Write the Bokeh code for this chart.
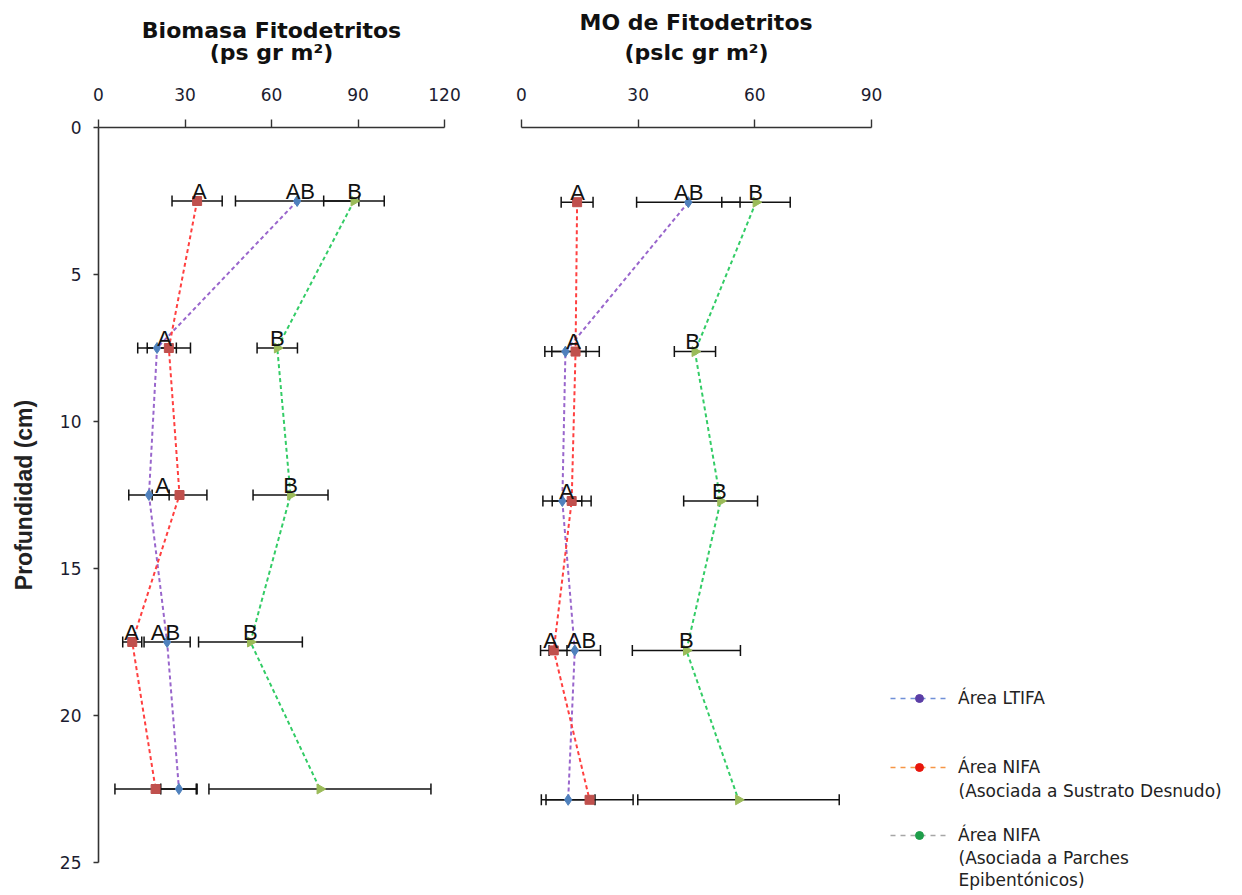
import math
from bokeh.plotting import figure
from bokeh.layouts import row
from bokeh.models import (Range1d, FixedTicker, ColumnDataSource, Whisker, TeeHead,
                          Title, Legend, LegendItem, Label)
from bokeh.core.properties import value
from bokeh.embed import file_html
from bokeh.resources import INLINE

# ---------------- data ----------------
depth = [2.5, 7.5, 12.5, 17.5, 22.5]
depth_ticks = [0, 5, 10, 15, 20, 25]
bio_ticks = [0, 30, 60, 90, 120]
mo_ticks = [0, 30, 60, 90]

series_labels = ["Área LTIFA", "Área NIFA", "Área NIFA"]
series_sublabels = [[], ["(Asociada a Sustrato Desnudo)"],
                    ["(Asociada a Parches", "Epibentónicos)"]]

# Biomasa Fitodetritos (ps gr m2)
bio_ltifa = [68.9, 20.3, 17.5, 23.8, 27.9]
bio_ltifa_err = [21.4, 6.7, 7.0, 8.0, 6.3]
bio_desnudo = [34.2, 24.4, 28.1, 11.7, 19.8]
bio_desnudo_err = [8.7, 7.5, 9.5, 3.3, 14.1]
bio_parches = [88.6, 62.0, 66.6, 52.7, 76.8]
bio_parches_err = [10.5, 7.0, 13.0, 18.0, 38.5]

bio_lbl_text = ["A", "AB", "B", "A", "B", "A", "B", "A", "AB", "B"]
bio_lbl_x = [35.0, 70.0, 88.8, 22.9, 62.0, 22.2, 66.6, 11.5, 23.2, 52.7]
bio_lbl_depth = [2.5, 2.5, 2.5, 7.5, 7.5, 12.5, 12.5, 17.5, 17.5, 17.5]

# MO de Fitodetritos (pslc gr m2)
mo_ltifa = [42.9, 11.3, 10.5, 13.7, 12.0]
mo_ltifa_err = [13.3, 5.3, 5.0, 6.6, 6.9]
mo_desnudo = [14.3, 13.9, 12.9, 8.3, 17.5]
mo_desnudo_err = [4.1, 6.1, 5.0, 3.4, 11.2]
mo_parches = [60.3, 44.6, 51.2, 42.4, 55.8]
mo_parches_err = [8.8, 5.3, 9.5, 13.9, 25.9]

mo_lbl_text = ["A", "AB", "B", "A", "B", "A", "B", "A", "AB", "B"]
mo_lbl_x = [14.4, 43.0, 60.2, 13.4, 44.0, 11.6, 50.9, 7.5, 15.4, 42.4]
mo_lbl_depth = [2.5, 2.5, 2.5, 7.5, 7.5, 12.5, 12.5, 17.5, 17.5, 17.5]

# ---------------- styles ----------------
FONT = "Liberation Sans"
WIDEFONT = "DejaVu Sans"
LINE_COLORS = ["#9966CC", "#FF4040", "#33CC66"]
MARK_COLORS = ["#4F81BD", "#C0504D", "#9BBB59"]
NAN = float("nan")
TITLE_KW = dict(text_font=WIDEFONT, text_font_size="22px", text_font_style="bold",
                text_color="#111111")


def style_axis(ax, ticks):
    ax.ticker = FixedTicker(ticks=ticks)
    ax.minor_tick_line_color = None
    ax.axis_line_color = "#333333"
    ax.axis_line_width = 1.6
    ax.major_tick_line_color = "#333333"
    ax.major_tick_line_width = 1.4
    ax.major_tick_in = 0
    ax.major_label_text_font = WIDEFONT
    ax.major_label_text_font_size = "17px"
    ax.major_label_text_color = "#1c1c30"


def panel(xmax, xend, yend, xticks, fw, fh, bl, br, bb, with_y, vals, errs, lx, ld, lt):
    p = figure(frame_width=fw, frame_height=fh,
               x_range=Range1d(0, xend), y_range=Range1d(yend, 0),
               x_axis_location="above",
               y_axis_location="left" if with_y else None,
               output_backend="svg", toolbar_location=None, title=None,
               min_border_left=bl, min_border_right=br,
               min_border_top=127, min_border_bottom=bb)
    p.outline_line_color = None
    p.xgrid.visible = False
    p.ygrid.visible = False
    p.background_fill_color = "white"
    p.border_fill_color = "white"

    xa = p.xaxis[0]
    style_axis(xa, xticks)
    xa.bounds = (0, xmax)
    xa.major_tick_out = 8
    xa.major_label_standoff = 19
    if with_y:
        ya = p.yaxis[0]
        style_axis(ya, depth_ticks)
        ya.major_tick_out = 5
        ya.major_label_standoff = 12
        ya.axis_label = "Profundidad (cm)"
        ya.axis_label_text_font = FONT
        ya.axis_label_text_font_style = "bold"
        ya.axis_label_text_font_size = "23px"
        ya.axis_label_text_color = "#222222"
        ya.axis_label_standoff = 20

    # error bars
    for v, e in zip(vals, errs):
        src = ColumnDataSource(dict(base=depth,
                                    lower=[a - b for a, b in zip(v, e)],
                                    upper=[a + b for a, b in zip(v, e)]))
        w = Whisker(source=src, base="base", lower="lower", upper="upper",
                    dimension="width", line_color="#111111", line_width=1.5,
                    level="underlay",
                    upper_head=TeeHead(size=11, line_color="#111111", line_width=1.5),
                    lower_head=TeeHead(size=11, line_color="#111111", line_width=1.5))
        p.add_layout(w)

    # dashed connecting lines
    for v, c in zip(vals, LINE_COLORS):
        p.line(v, depth, line_color=c, line_dash="4 3", line_width=2)

    # markers
    p.scatter(vals[0], depth, marker="diamond", size=11,
              fill_color=MARK_COLORS[0], line_color=MARK_COLORS[0])
    p.scatter(vals[1], depth, marker="square", size=9,
              fill_color=MARK_COLORS[1], line_color=MARK_COLORS[1])
    p.scatter(vals[2], depth, marker="triangle", size=10, angle=-math.pi / 2,
              fill_color=MARK_COLORS[2], line_color=MARK_COLORS[2])

    # significance letters
    p.text(x=lx, y=ld, text=lt, text_font=value(FONT), text_font_size="22px",
           text_align="center", text_baseline="alphabetic", y_offset=-10,
           text_color="#111111")
    return p


# ---- Biomasa panel: 2nd title line is the top axis' label, 1st is a centred Title
p1 = panel(120, 120, 25, bio_ticks, 346, 735, 98, 30, 31, True,
           [bio_ltifa, bio_desnudo, bio_parches],
           [bio_ltifa_err, bio_desnudo_err, bio_parches_err],
           bio_lbl_x, bio_lbl_depth, bio_lbl_text)
xa1 = p1.xaxis[0]
xa1.axis_label = "(ps gr m²)"
xa1.axis_label_text_font = WIDEFONT
xa1.axis_label_text_font_style = "bold"
xa1.axis_label_text_font_size = "22px"
xa1.axis_label_text_color = "#111111"
xa1.axis_label_standoff = 20
p1.add_layout(Title(text="Biomasa Fitodetritos", align="center", standoff=-12, **TITLE_KW), "above")

# ---- MO panel: its frame also holds the legend, right of (and below) the data area:
# 0-90 spans the first 350 px, depth 0-25 spans the first 747 px.
MO_FW, MO_DW = 710, 350
MO_FH, MO_DH = 764, 747
p2 = panel(90, 90 * MO_FW / MO_DW, 25 * MO_FH / MO_DH, mo_ticks, MO_FW, MO_FH, 47, 3, 2, False,
           [mo_ltifa, mo_desnudo, mo_parches],
           [mo_ltifa_err, mo_desnudo_err, mo_parches_err],
           mo_lbl_x, mo_lbl_depth, mo_lbl_text)
# left-aligned titles shifted so they centre over the 350 px data axis
p2.add_layout(Title(text="(pslc gr m²)", align="left", offset=103, standoff=40, **TITLE_KW),
              "above")
p2.add_layout(Title(text="MO de Fitodetritos", align="left", offset=58, standoff=-34, **TITLE_KW),
              "above")

# ---------------- legend ----------------
leg_line_colors = ["#7090D8", "#F79646", "#A6A6A6"]
leg_dot_colors = ["#5B3EA6", "#E8160C", "#1E9E4A"]
leg_x = 369
leg_y = [183, 114, 46]
sub_y = [[], [101], [34, 12]]

for lab, subs, lc, dc, ly, sy in zip(series_labels, series_sublabels, leg_line_colors,
                                     leg_dot_colors, leg_y, sub_y):
    # legend-only renderers (a single NaN point draws nothing in the plot area)
    rl = p2.line(x=[NAN], y=[NAN], line_color=lc, line_dash="5 5", line_width=1.5)
    rc = p2.scatter(x=[NAN], y=[NAN], marker="circle", size=8, fill_color=dc, line_color=dc)
    lg = Legend(items=[LegendItem(label=lab, renderers=[rl, rc])], location=(leg_x, ly),
                padding=0, margin=0, spacing=0, border_line_color=None,
                background_fill_alpha=0, glyph_width=58, glyph_height=20,
                label_height=20, label_standoff=10, label_text_font=WIDEFONT,
                label_text_font_size="17px", label_text_color="#222222",
                label_text_baseline="middle")
    p2.add_layout(lg)
    for s, yy in zip(subs, sy):
        p2.add_layout(Label(x=leg_x + 68, y=yy, x_units="screen", y_units="screen", text=s,
                            text_font=WIDEFONT, text_font_size="17px", text_color="#222222",
                            text_baseline="middle", text_align="left"))

layout = row(p1, p2)
open("out.html", "w").write(file_html(layout, INLINE))
